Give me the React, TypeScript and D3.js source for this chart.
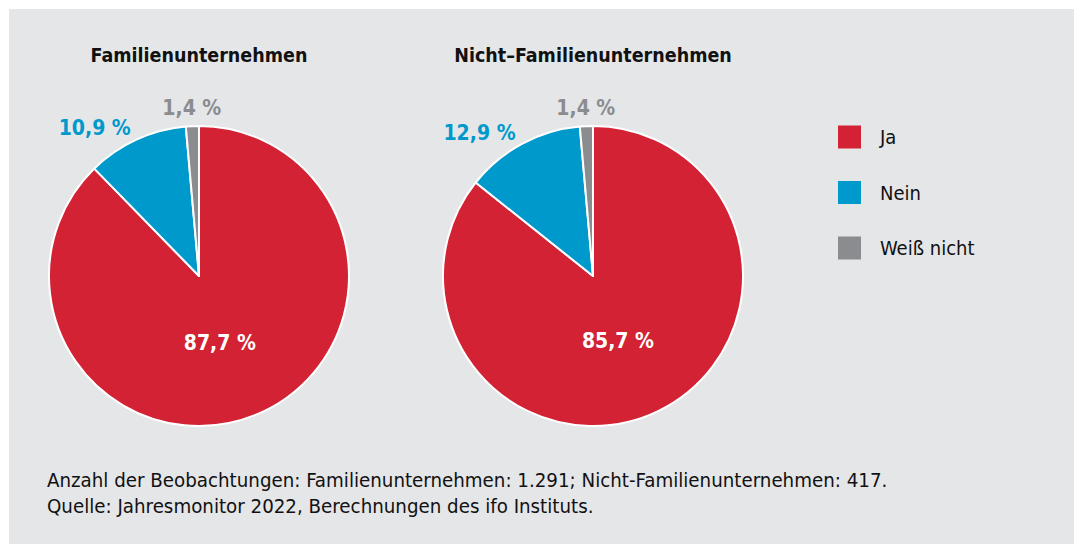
import { useEffect, useRef } from "react";
import * as d3 from "d3";

const categories = ["Ja", "Nein", "Weiß nicht"];
const colors = ["#d22233", "#0099cc", "#8b8c8f"];
const charts = ["Familienunternehmen", "Nicht–Familienunternehmen"];
const familyValues = [87.7, 10.9, 1.4];
const nonFamilyValues = [85.7, 12.9, 1.4];
const notes = [
  "Anzahl der Beobachtungen: Familienunternehmen: 1.291; Nicht-Familienunternehmen: 417.",
  "Quelle: Jahresmonitor 2022, Berechnungen des ifo Instituts.",
];

const FONT = "'DejaVu Sans Condensed', 'Liberation Sans Narrow', 'Noto Sans', sans-serif";

export default function App() {
  const svgRef = useRef<SVGSVGElement | null>(null);

  useEffect(() => {
    const width = 1074;
    const height = 544;
    const radius = 150;
    const centers = [199, 593];
    const cy = 276;

    const svg = d3.select(svgRef.current)
      .attr("width", width)
      .attr("height", height)
      .attr("viewBox", [0, 0, width, height].join(" "));
    svg.selectAll("*").remove();

    // panel background
    svg.append("rect")
      .attr("x", 9).attr("y", 9)
      .attr("width", width - 9).attr("height", height - 9)
      .attr("fill", "#e5e6e8");

    const fmt = (v: number) => v.toFixed(1).replace(".", ",") + " %";

    const pie = d3.pie<number>().sort(null).value(d => d);
    const arc = d3.arc<d3.PieArcDatum<number>>().innerRadius(0).outerRadius(radius);
    const inner = d3.arc<d3.PieArcDatum<number>>().innerRadius(0).outerRadius(radius * 0.95);
    const outer = d3.arc<d3.PieArcDatum<number>>().innerRadius(radius * 1.09).outerRadius(radius * 1.09);

    [familyValues, nonFamilyValues].forEach((values, i) => {
      const g = svg.append("g").attr("transform", `translate(${centers[i]},${cy})`);

      g.append("text")
        .attr("y", -214)
        .attr("text-anchor", "middle")
        .attr("font-family", FONT)
        .attr("font-weight", "bold")
        .attr("font-size", 19.5)
        .attr("fill", "#111")
        .text(charts[i]);

      const arcs = pie(values);
      g.selectAll("path.slice")
        .data(arcs)
        .join("path")
        .attr("class", "slice")
        .attr("d", arc)
        .attr("fill", (_, j) => colors[j])
        .attr("stroke", "#ffffff")
        .attr("stroke-width", 2)
        .attr("stroke-linejoin", "round");

      arcs.forEach((a, j) => {
        let pos: [number, number];
        let anchor = "middle";
        let dx = 0;
        let dy = 0;
        let fill = colors[j];
        if (j === 0) {
          pos = inner.centroid(a);
          fill = "#ffffff";
          dx = -6;
          dy = 8;
        } else if (j === 1) {
          pos = outer.centroid(a);
          anchor = "end";
          dy = 8;
        } else {
          pos = outer.centroid(a);
          dy = 2;
        }
        g.append("text")
          .attr("x", pos[0] + dx)
          .attr("y", pos[1] + dy)
          .attr("text-anchor", anchor)
          .attr("font-family", FONT)
          .attr("font-weight", "bold")
          .attr("font-size", 21)
          .attr("fill", fill)
          .text(fmt(values[j]));
      });
    });

    // legend
    const legendY = d3.scalePoint<string>().domain(categories).range([137, 248]);
    const legend = svg.append("g");
    categories.forEach((c, j) => {
      legend.append("rect")
        .attr("x", 838)
        .attr("y", legendY(c)! - 11.5)
        .attr("width", 23)
        .attr("height", 23)
        .attr("fill", colors[j]);
      legend.append("text")
        .attr("x", 880)
        .attr("y", legendY(c)! + 7)
        .attr("font-family", FONT)
        .attr("font-size", 20)
        .attr("fill", "#111")
        .text(c);
    });

    // footnotes
    notes.forEach((n, k) => {
      svg.append("text")
        .attr("x", 47)
        .attr("y", 487 + k * 26)
        .attr("font-family", FONT)
        .attr("font-size", 20.3)
        .attr("fill", "#111")
        .text(n);
    });
  }, []);

  return (
    <div style={{ position: "absolute", left: 0, top: 0 }}>
      <svg ref={svgRef} style={{ display: "block", background: "#ffffff" }} />
    </div>
  );
}
